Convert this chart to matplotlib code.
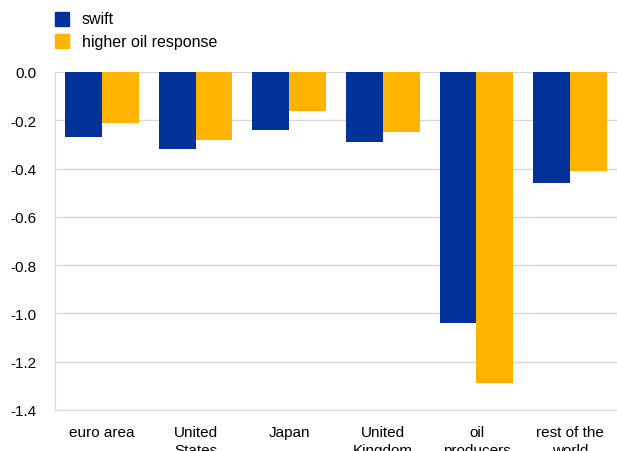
import matplotlib
matplotlib.use("Agg")
import matplotlib.pyplot as plt
import numpy as np
from matplotlib.patches import Rectangle

plt.rcParams['font.family'] = ['Liberation Sans', 'DejaVu Sans']

categories = ["euro area", "United\nStates", "Japan", "United\nKingdom", "oil\nproducers", "rest of the\nworld"]
series_names = ["swift", "higher oil response"]
swift = [-0.27, -0.32, -0.24, -0.29, -1.04, -0.46]
higher_oil = [-0.21, -0.28, -0.16, -0.25, -1.29, -0.41]
yticks = [0.0, -0.2, -0.4, -0.6, -0.8, -1.0, -1.2, -1.4]

blue = "#003299"
yellow = "#FFB400"
grid = "#D9D9D9"
W, H = 617, 452

fig = plt.figure(figsize=(W/100, H/100), dpi=100)
ax = fig.add_axes([55/W, 1-411/H, (W-55)/W, (411-73)/H])

x = np.arange(len(categories))
w = 0.395
ax.bar(x - w/2, swift, w, color=blue, zorder=3)
ax.bar(x + w/2, higher_oil, w, color=yellow, zorder=3)

ax.set_xlim(-0.5, len(categories) - 0.5)
ax.set_ylim(-1.4, 0.0)
ax.set_yticks(yticks)
ax.set_yticklabels([f"{v:.1f}" for v in yticks], fontsize=11)
ax.set_xticks(x)
ax.set_xticklabels(categories, fontsize=11, va='top', linespacing=1.35)
ax.tick_params(axis='y', length=0, pad=13)
ax.tick_params(axis='x', length=0, pad=11)
ax.yaxis.grid(True, color=grid, linewidth=1, zorder=0)
for s in ["top", "right"]:
    ax.spines[s].set_visible(False)
ax.spines["left"].set_color(grid)
ax.spines["bottom"].set_color(grid)

# legend drawn manually in pixel positions
for i, (name, col) in enumerate(zip(series_names, [blue, yellow])):
    top = 13 + 22 * i
    fig.patches.append(Rectangle((55/W, 1-(top+14)/H), 14/W, 14/H, transform=fig.transFigure,
                                 color=col, figure=fig))
    fig.text(82/W, 1-(top+7)/H, name, fontsize=11.5, va='center', ha='left')

fig.savefig("out.png", dpi=100)
